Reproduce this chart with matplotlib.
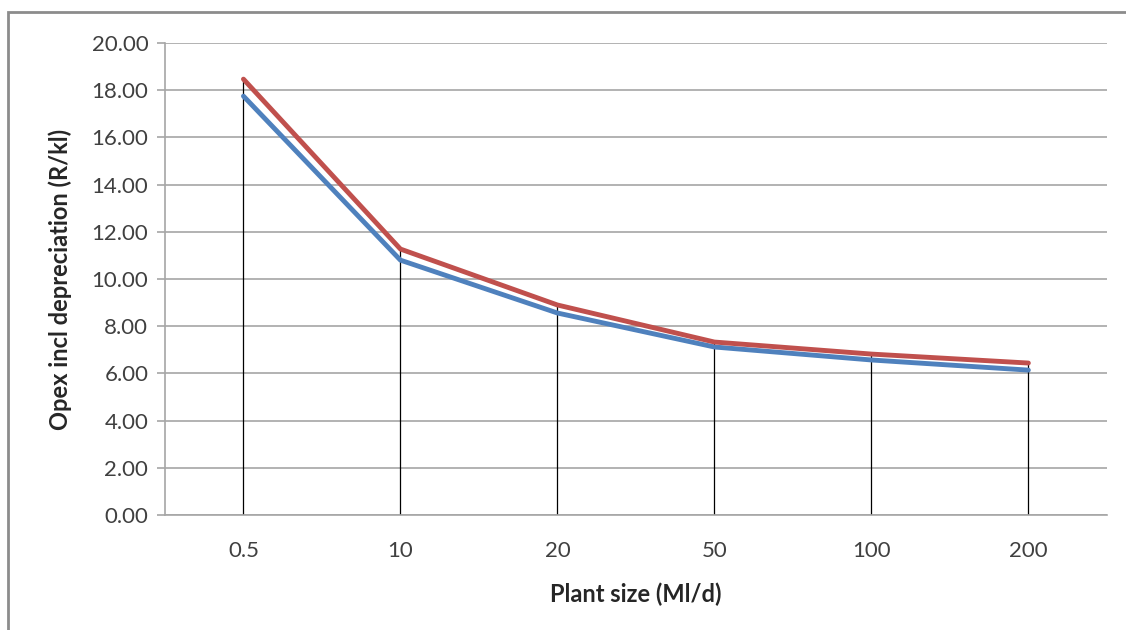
import matplotlib.pyplot as plt
from matplotlib.patches import Rectangle

# Plant size categories and opex values (R/kl)
sizes = ["0.5", "10", "20", "50", "100", "200"]
opex_low = [17.75, 10.80, 8.56, 7.12, 6.57, 6.14]
opex_high = [18.47, 11.27, 8.90, 7.33, 6.82, 6.44]
y_ticks = [0, 2, 4, 6, 8, 10, 12, 14, 16, 18, 20]

plt.rcParams["font.family"] = ["Lato", "DejaVu Sans"]

fig = plt.figure(figsize=(11.26, 6.3), dpi=100)
ax = fig.add_axes([0.1465, 0.1825, 0.8365, 0.7492])

# outer chart border
fig.patches.append(Rectangle((8 / 1126, -0.05), 1.2, 1 - 12 / 630 + 0.05,
                             transform=fig.transFigure, fill=False,
                             edgecolor="#8c8c8c", linewidth=2))

x = list(range(len(sizes)))

# drop lines from the top series down to zero
ax.vlines(x, 0, opex_high, color="black", linewidth=0.9, zorder=2)
ax.plot(x, opex_low, color="#4F81BD", linewidth=3.5, zorder=3,
        solid_capstyle="round")
ax.plot(x, opex_high, color="#C0504D", linewidth=3.5, zorder=4,
        solid_capstyle="round")

ax.set_xlim(-0.5, len(sizes) - 0.5)
ax.set_ylim(0, 20)
ax.set_xticks(x)
ax.set_xticklabels(sizes)
ax.set_yticks(y_ticks)
ax.set_yticklabels([f"{v:.2f}" for v in y_ticks])

ax.grid(axis="y", color="#a6a6a6", linewidth=1.2)
ax.set_axisbelow(True)
for side in ["top", "right"]:
    ax.spines[side].set_visible(False)
for side in ["left", "bottom"]:
    ax.spines[side].set_color("#a6a6a6")
    ax.spines[side].set_linewidth(1.2)

ax.tick_params(axis="y", length=6, width=1.2, color="#a6a6a6", pad=6,
               labelsize=16, labelcolor="#404040")
ax.tick_params(axis="x", length=0, pad=19, labelsize=16, labelcolor="#404040")

ax.set_xlabel("Plant size (Ml/d)", fontsize=17, fontweight="bold",
              color="#262626", labelpad=15)
ax.set_ylabel("Opex incl depreciation (R/kl)", fontsize=17, fontweight="bold",
              color="#262626", labelpad=14)

fig.savefig("out.png", dpi=100)
